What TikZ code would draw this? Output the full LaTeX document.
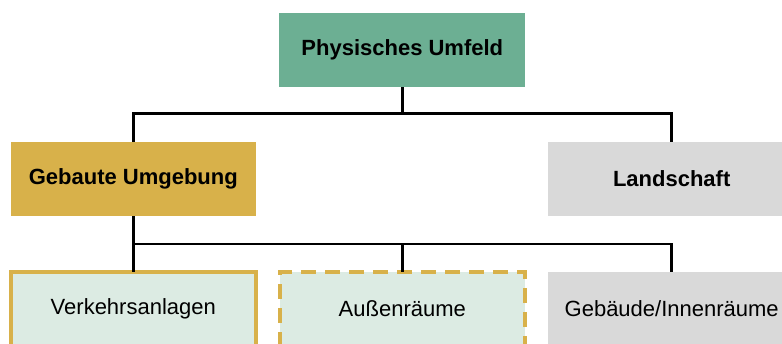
\documentclass[tikz,border=0pt]{standalone}
\usepackage{fontspec}
\setmainfont{Liberation Sans}
\definecolor{umfeldgreen}{RGB}{108,175,147}
\definecolor{gold}{RGB}{216,177,74}
\definecolor{lightgray}{RGB}{217,217,217}
\definecolor{mint}{RGB}{220,235,227}
\tikzset{
  box/.style={minimum width=246pt, minimum height=74pt, inner sep=0pt, outer sep=0pt,
              font=\fontsize{22}{26}\selectfont},
  headbox/.style={box, font=\fontsize{22}{26}\selectfont\bfseries},
  framed/.style={box, fill=mint, draw=gold, line width=4pt},
  conn/.style={draw=black, line width=2.6pt}
}
\begin{document}
\begin{tikzpicture}[x=1pt, y=-1pt]
  \useasboundingbox (0,0) rectangle (782,343);
  \clip (0,0) rectangle (782,343);
  % levels
  \node[headbox, fill=umfeldgreen] (umfeld) at (402.3,50) {Physisches Umfeld};
  \node[headbox, fill=gold, minimum width=245pt] (gebaut) at (133.3,179) {Gebaute Umgebung};
  \node[headbox, fill=lightgray, minimum width=247pt] (land) at (671.7,179) {Landschaft};
  \node[framed, minimum width=244.5pt] (verkehr) at (133.3,309) {Verkehrsanlagen};
  \node[framed, dash pattern=on 15pt off 9pt, minimum width=245pt] (aussen) at (402.3,309) {Außenräume};
  \node[box, fill=lightgray, minimum width=247pt] (gebaeude) at (671.7,309) {Gebäude/Innenräume};
  % bus lines
  \coordinate (bus1) at (402.3,113.5);
  \coordinate (bus2) at (402.3,244);
  \draw[conn] (umfeld.south) -- (bus1);
  \draw[conn] (gebaut.north) |- (bus1) -| (land.north);
  \draw[conn] (gebaut.south) |- (bus2) -| (gebaeude.north);
  \draw[conn] (bus2) -- (aussen.north);
  \draw[conn] (gebaut.south) -- (verkehr.north);
\end{tikzpicture}
\end{document}
